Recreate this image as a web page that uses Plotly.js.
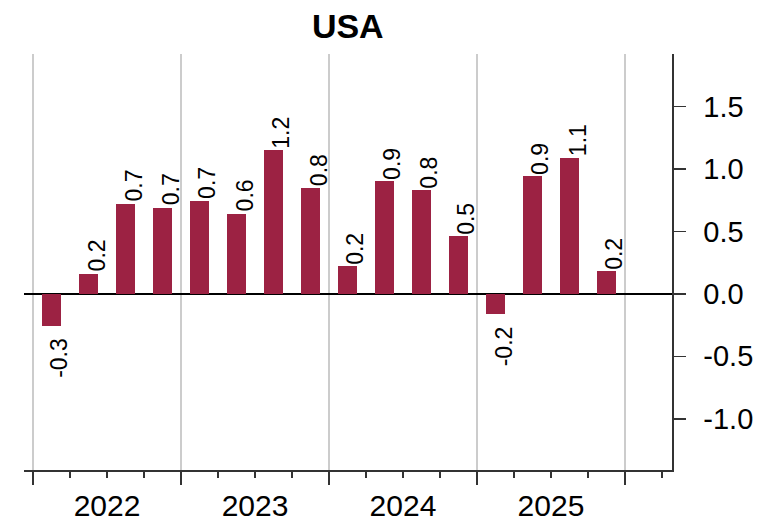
<!DOCTYPE html>
<html>
<head>
<meta charset="utf-8">
<script src="https://cdn.plot.ly/plotly-3.0.1.min.js"></script>
<style>html,body{margin:0;padding:0;background:#fff;}#chart{width:761px;height:524px;}</style>
</head>
<body>
<div id="chart"></div>
<script>
// Data
const years = [2022, 2023, 2024, 2025];
const quarters = [1, 2, 3, 4];
const values = [
  -0.26, 0.16, 0.72, 0.69,
  0.74, 0.64, 1.15, 0.85,
  0.22, 0.90, 0.83, 0.46,
  -0.16, 0.94, 1.09, 0.18
];
const labels = [
  '-0.3', '0.2', '0.7', '0.7',
  '0.7', '0.6', '1.2', '0.8',
  '0.2', '0.9', '0.8', '0.5',
  '-0.2', '0.9', '1.1', '0.2'
];
const yTickVals = [-1.0, -0.5, 0.0, 0.5, 1.0, 1.5];
const yTickText = ['-1.0', '-0.5', '0.0', '0.5', '1.0', '1.5'];

// positions: quarter centres in fractional years
const xPos = [];
years.forEach(y => quarters.forEach(q => xPos.push(y + (q - 0.5) / 4)));

const font = 'Liberation Sans, Arial, Helvetica, sans-serif';
const barColor = '#9c2243';

const trace = {
  type: 'bar',
  x: xPos,
  y: values,
  width: 0.13,
  marker: {color: barColor, line: {width: 0}},
  hoverinfo: 'skip',
  showlegend: false
};

const annotations = xPos.map((x, i) => {
  const neg = values[i] < 0;
  return {
    x: x, y: values[i], xref: 'x', yref: 'y',
    text: labels[i], showarrow: false, textangle: -90,
    xanchor: 'center', yanchor: neg ? 'top' : 'bottom',
    xshift: 8, yshift: neg ? -10 : 0,
    font: {family: font, size: 23, color: '#000'}
  };
});

const xTickVals = years.concat([years[years.length - 1] + 1]);
const xTickText = years.map(String).concat(['']);

const layout = {
  width: 761, height: 524,
  margin: {l: 24, r: 89, t: 54, b: 54},
  paper_bgcolor: '#fff', plot_bgcolor: '#fff',
  title: {text: '<b>USA</b>', x: 0.457, xanchor: 'center', y: 0.95, yanchor: 'middle',
          font: {family: font, size: 34, color: '#000'}},
  bargap: 0,
  xaxis: {
    range: [2021.939, 2026.318],
    tickmode: 'array', tickvals: xTickVals, ticktext: xTickText,
    ticks: 'outside', ticklen: 13, tickwidth: 1.5, tickcolor: '#333',
    ticklabelshift: 74, ticklabelstandoff: -5,
    showgrid: true, gridcolor: '#cccccc', gridwidth: 1.5,
    showline: true, linecolor: '#333', linewidth: 1.5,
    zeroline: false,
    tickfont: {family: font, size: 30, color: '#000'},
    minor: {tick0: 2022, dtick: 0.25, ticks: 'outside', ticklen: 6, tickwidth: 1.5, tickcolor: '#333', showgrid: false}
  },
  yaxis: {
    side: 'right',
    range: [-1.41, 1.92],
    tickmode: 'array', tickvals: yTickVals, ticktext: yTickText,
    ticks: 'outside', ticklen: 12, tickwidth: 1.5, tickcolor: '#333',
    ticklabelstandoff: 12,
    showgrid: false,
    showline: true, linecolor: '#333', linewidth: 1.5,
    zeroline: true, zerolinecolor: '#000', zerolinewidth: 1.5,
    tickfont: {family: font, size: 29, color: '#000'}
  },
  annotations: annotations
};

Plotly.newPlot('chart', [trace], layout, {staticPlot: true, displayModeBar: false});
</script>
</body>
</html>
